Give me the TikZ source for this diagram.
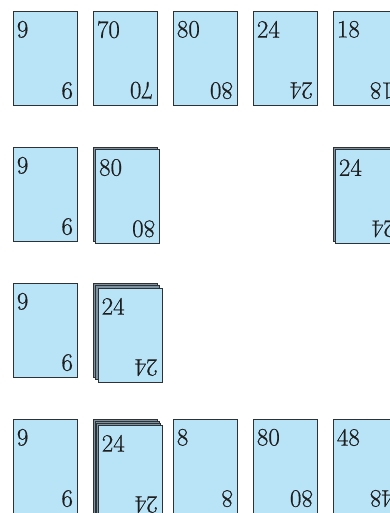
\documentclass[tikz,border=0pt]{standalone}
\usepackage{fontspec}
\newfontfamily\numfont{Latin Modern Roman}[FakeBold=0.7]
\definecolor{cardfill}{RGB}{185,228,248}
\definecolor{cardline}{RGB}{45,50,55}
\definecolor{backfill}{RGB}{125,145,158}
\definecolor{numcol}{RGB}{30,30,30}
\tikzset{
  card/.style={draw=cardline, fill=cardfill, line width=0.9pt, minimum width=64pt, minimum height=94pt, inner sep=0pt, outer sep=0pt, anchor=north west},
  backcard/.style={card, fill=backfill},
  num/.style={font=\numfont\fontsize{25}{30}\selectfont, inner sep=0pt, text=numcol, anchor=north west}
}
\newcommand{\cardlabels}[2]{%
  \node[num] (#1-t) at ([xshift=3.2pt,yshift=-9.7pt]#1.north west) {#2};
  \node[num, rotate=180] (#1-b) at ([xshift=-4.4pt,yshift=5.7pt]#1.south east) {#2};
}
\begin{document}
\begin{tikzpicture}[x=1pt,y=-1pt]
\clip (0,0) rectangle (390,513);
\fill[white] (0,0) rectangle (390,513);
% row 1
\node[card] (c11) at (13.5,11) {}; \cardlabels{c11}{9}
\node[card] (c12) at (93.5,11) {}; \cardlabels{c12}{70}
\node[card] (c13) at (173.5,11) {}; \cardlabels{c13}{80}
\node[card] (c14) at (253.5,11) {}; \cardlabels{c14}{24}
\node[card] (c15) at (333.5,11) {}; \cardlabels{c15}{18}
% row 2
\node[card] (c21) at (13.5,147) {}; \cardlabels{c21}{9}
\node[backcard] (c22a) at (93.5,147) {};
\node[card] (c22) at (95.7,149.2) {}; \cardlabels{c22}{80}
\node[backcard] (c25a) at (333.5,147) {};
\node[card] (c25) at (335.5,149.2) {}; \cardlabels{c25}{24}
% row 3
\node[card] (c31) at (13.5,283) {}; \cardlabels{c31}{9}
\node[backcard] (c32a) at (93.5,283) {};
\node[backcard] (c32b) at (95.9,285.5) {};
\node[card] (c32) at (98.3,288) {}; \cardlabels{c32}{24}
% row 4
\node[card] (c41) at (13.5,419) {}; \cardlabels{c41}{9}
\node[backcard] (c42a) at (93.5,419) {};
\node[backcard] (c42b) at (95.2,421) {};
\node[backcard] (c42c) at (96.8,423) {};
\node[card] (c42) at (98.4,425) {}; \cardlabels{c42}{24}
\node[card] (c43) at (173.5,419) {}; \cardlabels{c43}{8}
\node[card] (c44) at (253.5,419) {}; \cardlabels{c44}{80}
\node[card] (c45) at (333.5,419) {}; \cardlabels{c45}{48}
\end{tikzpicture}
\end{document}
